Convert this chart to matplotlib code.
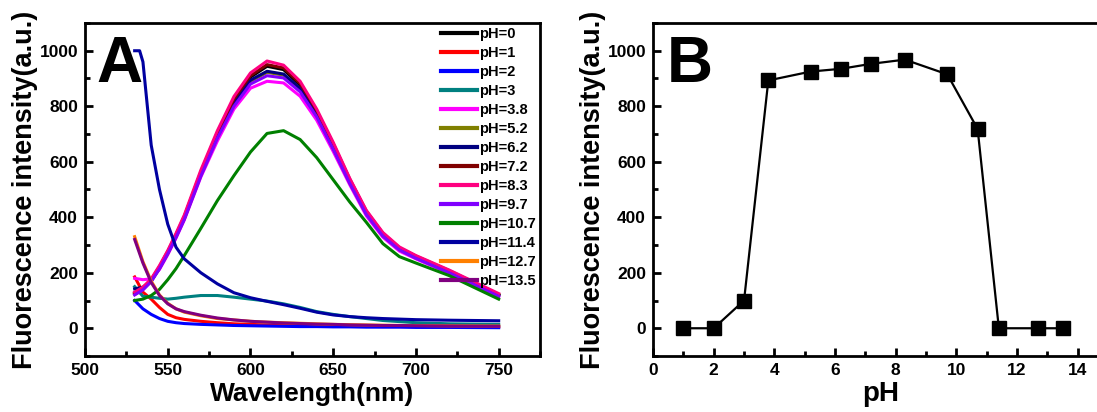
import matplotlib
matplotlib.use("Agg")
import matplotlib.pyplot as plt
from matplotlib.ticker import MultipleLocator

plt.rcParams['font.family'] = ['Liberation Sans', 'DejaVu Sans']
plt.rcParams['font.weight'] = 'bold'
plt.rcParams['axes.labelweight'] = 'bold'

# ---- panel A: emission spectra at different pH ----
wavelength = [530, 535, 540, 545, 550, 555, 560, 570, 580, 590, 600, 610,
              620, 630, 640, 650, 660, 670, 680, 690, 700, 720, 750]

ph_0 = [125, 143, 172, 220, 275, 335, 400, 560, 700, 820, 905, 944,
        932, 876, 780, 660, 533, 420, 340, 288, 258, 206, 120]
ph_1 = [185, 130, 105, 75, 50, 38, 32, 25, 20, 16, 14, 12,
        11, 10, 9, 8, 7, 7, 6, 6, 6, 5, 5]
ph_2 = [100, 70, 50, 35, 25, 20, 17, 14, 12, 10, 9, 8,
        7, 6, 6, 5, 5, 4, 4, 4, 3, 3, 2]
ph_3 = [150, 115, 112, 108, 105, 108, 112, 118, 118, 112, 105, 98,
        88, 75, 60, 50, 42, 35, 28, 24, 20, 16, 14]
ph_3_8 = [180, 175, 178, 212, 265, 325, 390, 545, 675, 790, 865, 890,
          884, 836, 750, 637, 517, 405, 328, 278, 250, 198, 112]
ph_5_2 = [122, 140, 170, 216, 270, 330, 395, 552, 690, 808, 890, 922,
          912, 860, 768, 650, 525, 414, 335, 284, 255, 203, 118]
ph_6_2 = [142, 148, 170, 218, 272, 332, 397, 555, 693, 812, 894, 926,
          916, 864, 771, 652, 527, 416, 337, 286, 256, 204, 118]
ph_7_2 = [128, 146, 175, 222, 277, 338, 403, 563, 705, 826, 910, 950,
          938, 882, 785, 665, 537, 422, 342, 290, 260, 208, 122]
ph_8_3 = [130, 148, 178, 226, 280, 342, 408, 570, 712, 835, 920, 963,
          948, 890, 790, 670, 540, 425, 345, 293, 262, 210, 125]
ph_9_7 = [120, 138, 168, 214, 268, 327, 392, 548, 685, 800, 880, 910,
          902, 852, 762, 645, 522, 410, 332, 282, 252, 200, 115]
ph_10_7 = [100, 105, 118, 140, 175, 215, 262, 360, 460, 550, 635, 702,
           712, 680, 615, 535, 455, 382, 305, 258, 235, 190, 105]
ph_12_7 = [330, 240, 170, 120, 90, 70, 58, 45, 35, 30, 25, 22,
           20, 18, 16, 14, 13, 12, 11, 10, 10, 9, 8]
ph_13_5 = [320, 235, 165, 118, 88, 70, 60, 47, 37, 30, 25, 22,
           19, 17, 15, 14, 12, 11, 10, 10, 9, 8, 7]

# pH 11.4 is saturated at the start, so it gets its own wavelength points
wavelength_11_4 = [530, 533, 535, 537, 540, 545, 550, 555, 560, 570, 580, 590,
                   600, 610, 620, 630, 640, 650, 660, 670, 680, 690, 700, 720, 750]
ph_11_4 = [1000, 1000, 960, 840, 660, 500, 375, 292, 250, 200, 160, 128,
           110, 97, 85, 72, 58, 48, 42, 38, 35, 33, 31, 29, 27]

spectra = [
    ('pH=0', wavelength, ph_0, '#000000'),
    ('pH=1', wavelength, ph_1, '#ff0000'),
    ('pH=2', wavelength, ph_2, '#0000ff'),
    ('pH=3', wavelength, ph_3, '#008080'),
    ('pH=3.8', wavelength, ph_3_8, '#ff00ff'),
    ('pH=5.2', wavelength, ph_5_2, '#808000'),
    ('pH=6.2', wavelength, ph_6_2, '#000080'),
    ('pH=7.2', wavelength, ph_7_2, '#800000'),
    ('pH=8.3', wavelength, ph_8_3, '#ff0080'),
    ('pH=9.7', wavelength, ph_9_7, '#8000ff'),
    ('pH=10.7', wavelength, ph_10_7, '#008000'),
    ('pH=11.4', wavelength_11_4, ph_11_4, '#0000a0'),
    ('pH=12.7', wavelength, ph_12_7, '#ff8000'),
    ('pH=13.5', wavelength, ph_13_5, '#800080'),
]

# ---- panel B: peak intensity vs pH ----
ph_values = [1, 2, 3, 3.8, 5.2, 6.2, 7.2, 8.3, 9.7, 10.7, 11.4, 12.7, 13.5]
peak_intensity = [0, 0, 100, 893, 925, 935, 953, 968, 915, 718, 0, 0, 0]

fig = plt.figure(figsize=(10.97, 4.12), dpi=100)
axA = fig.add_axes([0.0775, 0.1359, 0.4148, 0.8083])
axB = fig.add_axes([0.5953, 0.1359, 0.4148, 0.8083])


def style_axis(ax):
    for side in ['top', 'right', 'bottom', 'left']:
        ax.spines[side].set_linewidth(2.0)
    ax.tick_params(which='both', direction='in', top=False, right=False,
                   width=2.0, labelsize=12.5, pad=5)
    ax.tick_params(which='major', length=6)
    ax.tick_params(which='minor', length=3.5)
    for lab in ax.get_xticklabels() + ax.get_yticklabels():
        lab.set_fontweight('bold')


for label, x, y, color in spectra:
    axA.plot(x, y, color=color, lw=2.2, label=label)

axA.set_xlim(500, 775)
axA.set_ylim(-100, 1100)
axA.xaxis.set_minor_locator(MultipleLocator(25))
axA.yaxis.set_major_locator(MultipleLocator(200))
axA.yaxis.set_minor_locator(MultipleLocator(100))
axA.set_xticks([500, 550, 600, 650, 700, 750])
style_axis(axA)
axA.set_xlabel('Wavelength(nm)', fontsize=19, fontweight='bold', labelpad=3)
axA.set_ylabel('Fluorescence intensity(a.u.)', fontsize=19.5, fontweight='bold', labelpad=1)
axA.text(0.025, 0.965, 'A', transform=axA.transAxes, fontsize=46,
         fontweight='bold', va='top', ha='left')
leg = axA.legend(loc='upper right', bbox_to_anchor=(1.0, 1.0), frameon=False,
                 fontsize=10.5, handlelength=2.5, handletextpad=0.1,
                 labelspacing=0.34, borderpad=0.2, borderaxespad=0.1)
for line in leg.get_lines():
    line.set_linewidth(3)
for t in leg.get_texts():
    t.set_fontweight('bold')

axB.plot(ph_values, peak_intensity, color='black', lw=1.6, marker='s',
         markersize=10, markerfacecolor='black')
axB.set_xlim(0, 15)
axB.set_ylim(-100, 1100)
axB.set_xticks([0, 2, 4, 6, 8, 10, 12, 14])
axB.xaxis.set_minor_locator(MultipleLocator(1))
axB.yaxis.set_major_locator(MultipleLocator(200))
axB.yaxis.set_minor_locator(MultipleLocator(100))
style_axis(axB)
axB.set_xlabel('pH', fontsize=20, fontweight='bold', labelpad=2)
axB.set_ylabel('Fluorescence intensity(a.u.)', fontsize=19.5, fontweight='bold', labelpad=1)
axB.text(0.03, 0.965, 'B', transform=axB.transAxes, fontsize=46,
         fontweight='bold', va='top', ha='left')

fig.savefig('out.png', dpi=100)
